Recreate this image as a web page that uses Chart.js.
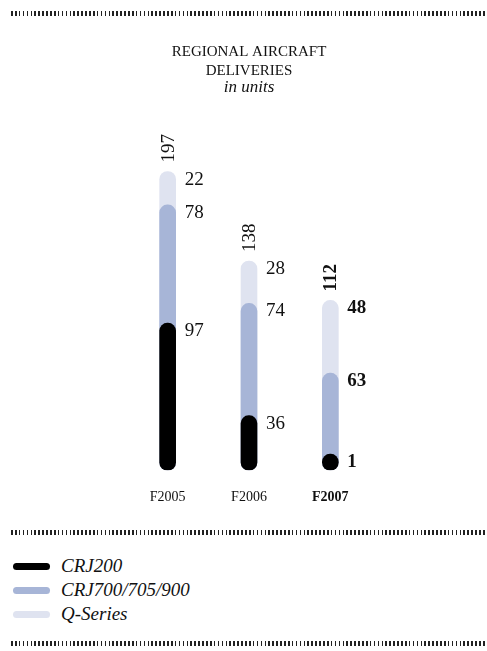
<!DOCTYPE html>
<html>
<head>
<meta charset="utf-8">
<script src="https://cdn.jsdelivr.net/npm/chart.js@4/dist/chart.umd.min.js"></script>
<style>
  body { margin: 0; background: #fff; width: 487px; height: 651px; position: relative; overflow: hidden; }
  .sep {
    position: absolute; left: 11px; right: 2px; height: 5px;
    background: repeating-linear-gradient(to right, #222 0 1.6px, transparent 1.6px 3.9px);
  }
  #chart { position: absolute; left: 0; top: 20px; }
  #legend { position: absolute; left: 13px; top: 554px; font-family: "Liberation Serif", serif; font-style: italic; font-size: 19px; color: #111; }
  .item { display: flex; align-items: center; height: 24px; }
  .swatch { width: 37px; height: 7px; border-radius: 4px; margin-right: 11px; }
</style>
</head>
<body>
<div class="sep" style="top:11px"></div>
<canvas id="chart" width="487" height="513"></canvas>
<div class="sep" style="top:530px"></div>
<div id="legend"></div>
<div class="sep" style="top:641px"></div>

<script>
// Chart data
const years = ['F2005', 'F2006', 'F2007'];
const crj200 = [97, 36, 1];
const crj700 = [78, 74, 63];
const qSeries = [22, 28, 48];
const seriesNames = ['CRJ200', 'CRJ700/705/900', 'Q-Series'];
const seriesColors = ['#000000', '#a7b5d7', '#dfe3f0'];

const serif = '"Liberation Serif", serif';

// bars are drawn overlapped, each one reaching the running total
const series = [crj200, crj700, qSeries];
const cumulative = series.map((s, i) =>
  s.map((v, j) => series.slice(0, i + 1).reduce((sum, arr) => sum + arr[j], 0))
);

// Value labels next to each segment top, totals rotated above
const labelPlugin = {
  id: 'segmentLabels',
  afterDatasetsDraw(chart) {
    const ctx = chart.ctx;
    ctx.save();
    ctx.fillStyle = '#111';
    years.forEach((y, j) => {
      const weight = j === 2 ? 'bold ' : '';
      let topY = Infinity, x = 0;
      series.forEach((s, i) => {
        const bar = chart.getDatasetMeta(i).data[j];
        ctx.font = weight + '19px ' + serif;
        ctx.textAlign = 'left';
        ctx.textBaseline = 'middle';
        ctx.fillText(String(s[j]), bar.x + 17, bar.y + 8);
        topY = Math.min(topY, bar.y);
        x = bar.x;
      });
      const total = series.reduce((sum, s) => sum + s[j], 0);
      ctx.save();
      ctx.translate(x + 1, topY - 9);
      ctx.rotate(-Math.PI / 2);
      ctx.font = weight + '19px ' + serif;
      ctx.textAlign = 'left';
      ctx.textBaseline = 'middle';
      ctx.fillText(String(total), 0, 0);
      ctx.restore();
    });
    ctx.restore();
  }
};

new Chart(document.getElementById('chart'), {
  type: 'bar',
  data: {
    labels: years,
    datasets: seriesNames.map((name, i) => ({
      label: name,
      data: cumulative[i],
      backgroundColor: seriesColors[i],
      barThickness: 16,
      borderRadius: 8,
      borderSkipped: false,
      minBarLength: 16,
      grouped: false,
    })),
  },
  options: {
    responsive: false,
    animation: false,
    layout: { padding: { left: 127, right: 116, top: 0, bottom: 8 } },
    plugins: {
      legend: { display: false },
      tooltip: { enabled: false },
      title: {
        display: true,
        text: ['REGIONAL AIRCRAFT', 'DELIVERIES'],
        color: '#111',
        font: { family: serif, size: 15, lineHeight: 19 / 15, weight: 'normal' },
        padding: { top: 23, bottom: 0 },
      },
      subtitle: {
        display: true,
        text: 'in units',
        color: '#111',
        font: { family: serif, size: 17, style: 'italic', lineHeight: 14 / 17 },
        padding: { top: 0, bottom: 72 },
      },
    },
    scales: {
      x: {
        grid: { display: false, drawTicks: false },
        border: { display: false },
        ticks: {
          color: '#111',
          padding: 19,
          font: (c) => ({ family: serif, size: 14, weight: c.index === 2 ? 'bold' : 'normal' }),
        },
      },
      y: { display: false, min: 0, max: 200 },
    },
  },
  plugins: [labelPlugin],
});

// Legend
const legend = document.getElementById('legend');
seriesNames.forEach((name, i) => {
  const row = document.createElement('div');
  row.className = 'item';
  row.innerHTML = `<span class="swatch" style="background:${seriesColors[i]}"></span>${name}`;
  legend.appendChild(row);
});
</script>
</body>
</html>
